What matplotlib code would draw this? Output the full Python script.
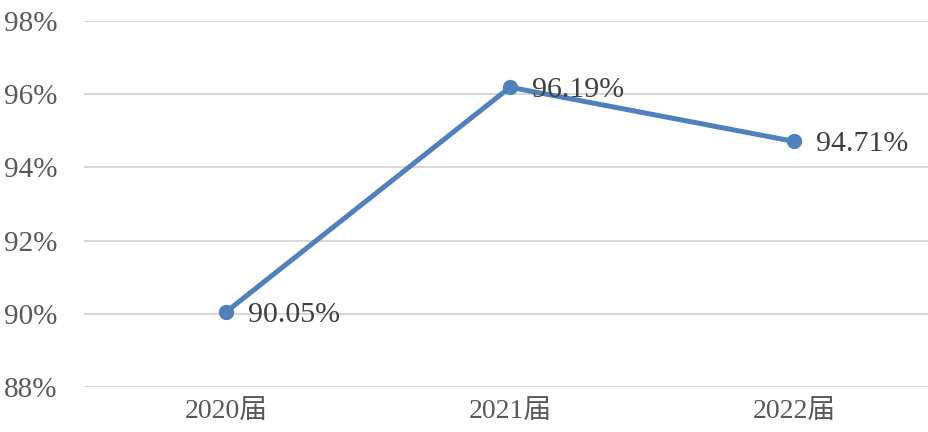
import matplotlib.pyplot as plt
from matplotlib.ticker import FuncFormatter

# data
years = ['2020届', '2021届', '2022届']
rates = [90.05, 96.19, 94.71]
y_ticks = [88, 90, 92, 94, 96, 98]

plt.rcParams['font.family'] = ['Liberation Serif', 'Noto Sans CJK SC', 'DejaVu Sans']

fig = plt.figure(figsize=(9.29, 4.32), dpi=100)
ax = fig.add_axes([84 / 929, 45 / 432, 852 / 929, 366 / 432])

x = list(range(len(years)))
ax.plot(x, rates, color='#4F81BD', linewidth=3.6, marker='o', markersize=10,
        solid_capstyle='round', zorder=3)

for xi, v in zip(x, rates):
    ax.annotate(f'{v:.2f}%', (xi, v), xytext=(16, -2), textcoords='offset points',
                ha='left', va='center', fontsize=21.5, color='#404040', zorder=4)

ax.set_xlim(-0.5, 2.5)
ax.set_ylim(88, 98)
ax.set_yticks(y_ticks)
ax.yaxis.set_major_formatter(FuncFormatter(lambda v, p: f'{v:.0f}%'))
ax.set_xticks(x)
ax.set_xticklabels(years)

ax.grid(axis='y', color='#D9D9D9', linewidth=1.5)
ax.set_axisbelow(True)
for s in ax.spines.values():
    s.set_visible(False)
ax.tick_params(axis='both', length=0, labelsize=21, colors='#595959')
ax.tick_params(axis='y', pad=19)
ax.tick_params(axis='x', labelsize=20, pad=9)

fig.savefig('out.png', dpi=100)
